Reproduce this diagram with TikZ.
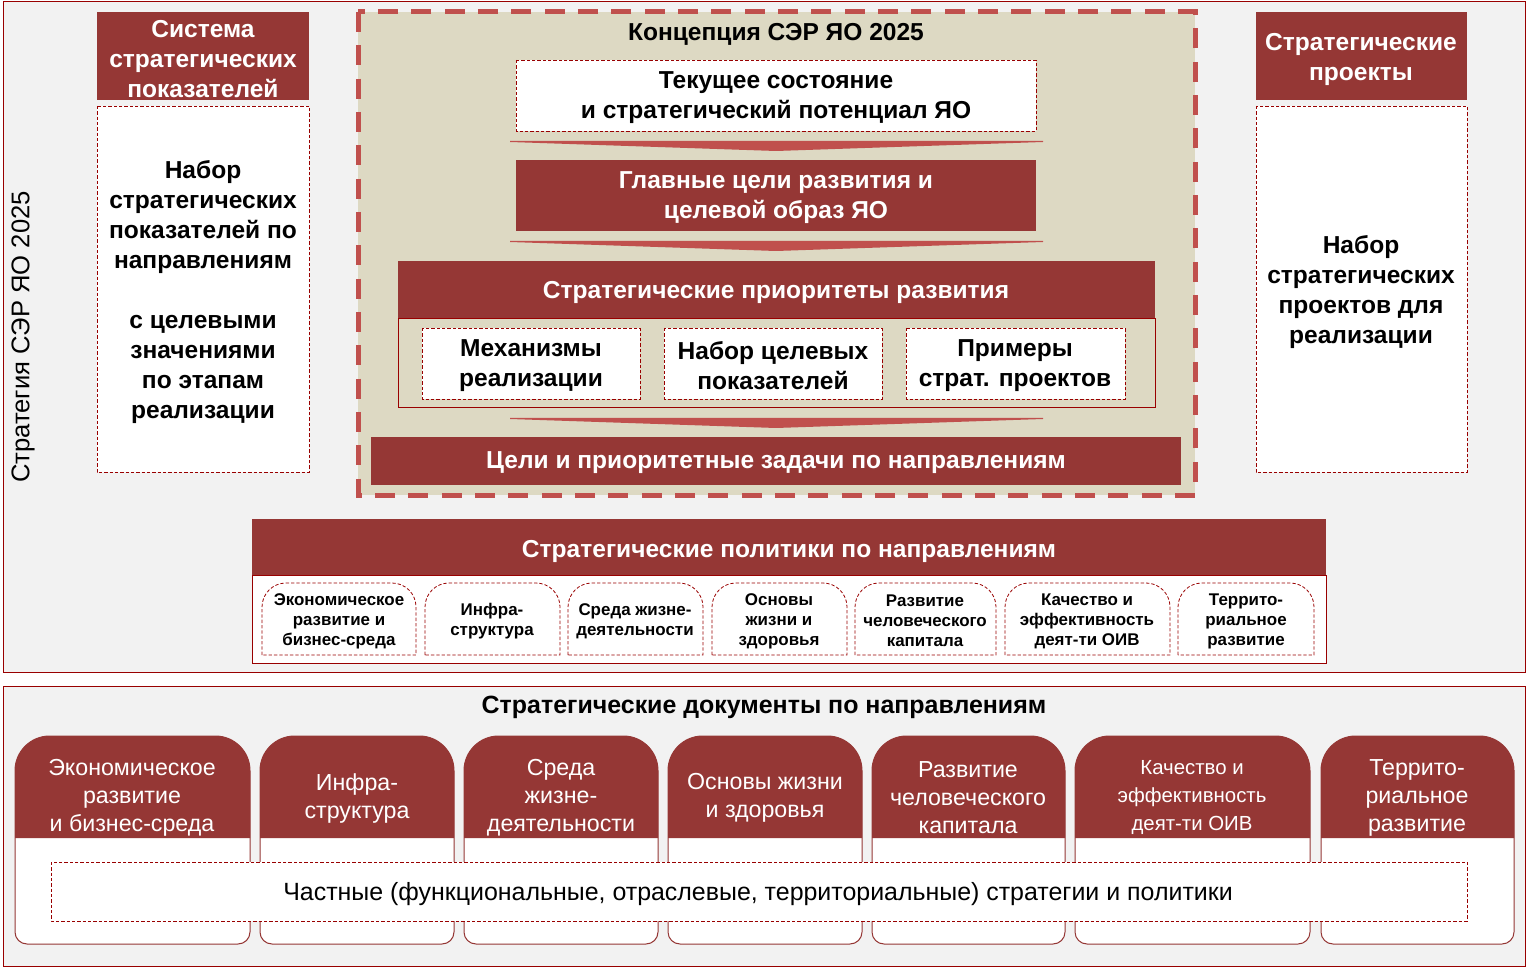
\documentclass[tikz,border=0pt]{standalone}
\usepackage{fontspec}
\setmainfont{Liberation Sans}
\definecolor{darkred}{HTML}{953735}
\definecolor{chevred}{HTML}{C0504D}
\definecolor{conceptbg}{HTML}{DDD9C3}
\definecolor{bggray}{HTML}{F2F2F2}
\definecolor{edgered}{HTML}{990000}
\tikzset{every picture/.style={line width=0.75pt},
  panel/.style={draw=edgered, fill=bggray, line width=0.75pt},
  redbar/.style={fill=darkred},
  dashbox/.style={draw=edgered, fill=white, line width=0.6pt, dash pattern={on 2.5pt off 1.5pt}},
  conceptframe/.style={draw=chevred, fill=conceptbg, line width=3.75pt, dash pattern={on 15pt off 10pt}},
  chevron/.style={fill=chevred},
  tabline/.style={draw=darkred, fill=white, line width=0.75pt},
  headtext/.style={inner sep=0.75pt, align=center, text=white, font=\bfseries\fontsize{18.4}{22.5}\selectfont},
  bodytext/.style={inner sep=0.75pt, align=center, font=\bfseries\fontsize{18.4}{22.5}\selectfont},
  smalltext/.style={inner sep=0.75pt, align=center, font=\bfseries\fontsize{12.7}{15}\selectfont},
  tabtext/.style={inner sep=0.75pt, align=center, text=white, font=\fontsize{17.4}{21}\selectfont},
  plaintext/.style={inner sep=0.75pt, align=center, font=\fontsize{18.7}{21}\selectfont}}

\begin{document}
\begin{tikzpicture}[x=0.75pt,y=0.75pt,yscale=-1]
	\useasboundingbox (0,0) rectangle (1527,969);
	
	%Shape: Rectangle [upper panel]
	\draw [panel] (3,2) rectangle (1525,672) ;
	%Shape: Rectangle [lower panel]
	\draw [panel] (3,686) rectangle (1525,966) ;
	
	% Text Node
	\draw (23,337) node [plaintext, font=\fontsize{19.2}{21}\selectfont, rotate=90] (stratLabel) {Стратегия  СЭР ЯО 2025};
	
	%Shape: Rectangle [indicators]
	\fill [redbar] (97,12) rectangle (309,100) ;
	\draw [dashbox] (97,106) rectangle (309,472) ;
	% Text Node
	\draw (203,59) node [headtext] (indHead) {Система\\стратегических\\показателей};
	% Text Node
	\draw (203,292) node [bodytext] (indBody) {Набор\\стратегических\\показателей по\\направлениям\\[22.5pt]с целевыми\\значениями\\по этапам\\реализации};
	
	%Shape: Rectangle [projects]
	\fill [redbar] (1256,12) rectangle (1467,100) ;
	\draw [dashbox] (1256,106) rectangle (1467,472) ;
	% Text Node
	\draw (1361,59) node [headtext] (projHead) {Стратегические\\проекты};
	% Text Node
	\draw (1361,292) node [bodytext] (projBody) {Набор\\стратегических\\проектов для\\реализации};
	
	%Shape: Rectangle [concept]
	\draw [conceptframe] (358,12) rectangle (1195,495) ;
	% Text Node
	\draw (776,34) node [bodytext] (concept) {Концепция СЭР ЯО 2025};
	
	%Shape: Rectangle [current state]
	\draw [dashbox] (516,60) rectangle (1036,131) ;
	% Text Node
	\draw (776,98) node [bodytext] (current) {Текущее состояние\\и стратегический потенциал ЯО};
	%Shape: Chevron
	\fill [chevron] (510,141) -- (1043,141) -- (1043,142) -- (776,151) -- (510,142) -- cycle ;
	
	%Shape: Rectangle [main goals]
	\fill [redbar] (516,160) rectangle (1036,231) ;
	% Text Node
	\draw (776,198) node [headtext] (goals) {Главные цели развития и\\целевой образ ЯО};
	%Shape: Chevron
	\fill [chevron] (510,241) -- (1043,241) -- (1043,242) -- (776,251) -- (510,242) -- cycle ;
	
	%Shape: Rectangle [priorities]
	\fill [redbar] (398,261) rectangle (1155,319) ;
	\draw [draw=edgered] (398,319) rectangle (1155,408) ;
	% Text Node
	\draw (776,292) node [headtext] (prior) {Стратегические  приоритеты  развития};
	\draw [dashbox] (422,328) rectangle (640,399) ;
	\draw [dashbox] (664,328) rectangle (882,399) ;
	\draw [dashbox] (906,328) rectangle (1125,399) ;
	% Text Node
	\draw (531,366) node [bodytext] (mech) {Механизмы\\реализации};
	% Text Node
	\draw (773,366) node [bodytext] (targets) {Набор целевых\\показателей};
	% Text Node
	\draw (1015,366) node [bodytext] (examples) {Примеры\\страт. проектов};
	%Shape: Chevron
	\fill [chevron] (510,418) -- (1043,418) -- (1043,419) -- (776,428) -- (510,419) -- cycle ;
	
	%Shape: Rectangle [tasks]
	\fill [redbar] (371,437) rectangle (1181,485) ;
	% Text Node
	\draw (776,463) node [headtext] (tasks) {Цели и приоритетные  задачи по направлениям};
	
	%Shape: Rectangle [policies]
	\fill [redbar] (252,519) rectangle (1326,575) ;
	\draw [draw=edgered, fill=white] (252,575) rectangle (1326,663) ;
	% Text Node
	\draw (789,551) node [headtext] (policies) {Стратегические  политики по направлениям};
	%Shape: Rounded tops
	\draw [dashbox] (262,655) [rounded corners=18pt] -- (262,583) -- (416,583) [sharp corners] -- (416,655) -- cycle ;
	\draw [dashbox] (425,655) [rounded corners=18pt] -- (425,583) -- (560,583) [sharp corners] -- (560,655) -- cycle ;
	\draw [dashbox] (568,655) [rounded corners=18pt] -- (568,583) -- (703,583) [sharp corners] -- (703,655) -- cycle ;
	\draw [dashbox] (712,655) [rounded corners=18pt] -- (712,583) -- (847,583) [sharp corners] -- (847,655) -- cycle ;
	\draw [dashbox] (855,655) [rounded corners=18pt] -- (855,583) -- (996,583) [sharp corners] -- (996,655) -- cycle ;
	\draw [dashbox] (1005,655) [rounded corners=18pt] -- (1005,583) -- (1170,583) [sharp corners] -- (1170,655) -- cycle ;
	\draw [dashbox] (1178,655) [rounded corners=18pt] -- (1178,583) -- (1314,583) [sharp corners] -- (1314,655) -- cycle ;
	% Text Nodes
	\draw (339,621) node [smalltext] (polEcon) {Экономическое\\развитие и\\бизнес-среда};
	\draw (492,621) node [smalltext] (polInfra) {Инфра-\\структура};
	\draw (635,621) node [smalltext] (polEnv) {Среда жизне-\\деятельности};
	\draw (779,621) node [smalltext] (polHealth) {Основы\\жизни и\\здоровья};
	\draw (925,621) node [smalltext] (polHuman) {Развитие\\человеческого\\капитала};
	\draw (1087,621) node [smalltext] (polGov) {Качество и\\эффективность\\деят-ти ОИВ};
	\draw (1246,621) node [smalltext] (polTerr) {Террито-\\риальное\\развитие};
	
	% Text Node
	\draw (764,707) node [bodytext, font=\bfseries\fontsize{18.7}{22.5}\selectfont] (docs) {Стратегические документы по направлениям};
	
	%Shape: Tabs
	\draw [tabline] (15,838) [rounded corners=26pt] -- (15,736) -- (250,736) [sharp corners] -- (250,838) [rounded corners=9pt] -- (250,944) -- (15,944) [sharp corners] -- cycle ;
	\fill [redbar] (15,838) [rounded corners=26pt] -- (15,736) -- (250,736) [sharp corners] -- (250,838) -- cycle ;
	\draw [tabline] (260,838) [rounded corners=26pt] -- (260,736) -- (454,736) [sharp corners] -- (454,838) [rounded corners=9pt] -- (454,944) -- (260,944) [sharp corners] -- cycle ;
	\fill [redbar] (260,838) [rounded corners=26pt] -- (260,736) -- (454,736) [sharp corners] -- (454,838) -- cycle ;
	\draw [tabline] (464,838) [rounded corners=26pt] -- (464,736) -- (658,736) [sharp corners] -- (658,838) [rounded corners=9pt] -- (658,944) -- (464,944) [sharp corners] -- cycle ;
	\fill [redbar] (464,838) [rounded corners=26pt] -- (464,736) -- (658,736) [sharp corners] -- (658,838) -- cycle ;
	\draw [tabline] (668,838) [rounded corners=26pt] -- (668,736) -- (862,736) [sharp corners] -- (862,838) [rounded corners=9pt] -- (862,944) -- (668,944) [sharp corners] -- cycle ;
	\fill [redbar] (668,838) [rounded corners=26pt] -- (668,736) -- (862,736) [sharp corners] -- (862,838) -- cycle ;
	\draw [tabline] (872,838) [rounded corners=26pt] -- (872,736) -- (1065,736) [sharp corners] -- (1065,838) [rounded corners=9pt] -- (1065,944) -- (872,944) [sharp corners] -- cycle ;
	\fill [redbar] (872,838) [rounded corners=26pt] -- (872,736) -- (1065,736) [sharp corners] -- (1065,838) -- cycle ;
	\draw [tabline] (1075,838) [rounded corners=26pt] -- (1075,736) -- (1310,736) [sharp corners] -- (1310,838) [rounded corners=9pt] -- (1310,944) -- (1075,944) [sharp corners] -- cycle ;
	\fill [redbar] (1075,838) [rounded corners=26pt] -- (1075,736) -- (1310,736) [sharp corners] -- (1310,838) -- cycle ;
	\draw [tabline] (1321,838) [rounded corners=26pt] -- (1321,736) -- (1514,736) [sharp corners] -- (1514,838) [rounded corners=9pt] -- (1514,944) -- (1321,944) [sharp corners] -- cycle ;
	\fill [redbar] (1321,838) [rounded corners=26pt] -- (1321,736) -- (1514,736) [sharp corners] -- (1514,838) -- cycle ;
	% Text Nodes
	\draw (132,798) node [tabtext] (docEcon) {Экономическое\\развитие\\и бизнес-среда};
	\draw (357,798) node [tabtext] (docInfra) {Инфра-\\структура};
	\draw (561,798) node [tabtext] (docEnv) {Среда\\жизне-\\деятельности};
	\draw (765,798) node [tabtext] (docHealth) {Основы жизни\\и здоровья};
	\draw (968,798) node [tabtext] (docHuman) {Развитие\\человеческого\\капитала};
	\draw (1192,798) node [tabtext, font=\fontsize{15.3}{21}\selectfont] (docGov) {Качество и\\эффективность\\деят-ти ОИВ};
	\draw (1417,798) node [tabtext] (docTerr) {Террито-\\риальное\\развитие};
	
	%Shape: Rectangle [private strategies]
	\draw [dashbox] (51,862) rectangle (1467,921) ;
	% Text Node
	\draw (758,894) node [plaintext] (private) {Частные (функциональные, отраслевые, территориальные) стратегии и политики};
	
\end{tikzpicture}
\end{document}
